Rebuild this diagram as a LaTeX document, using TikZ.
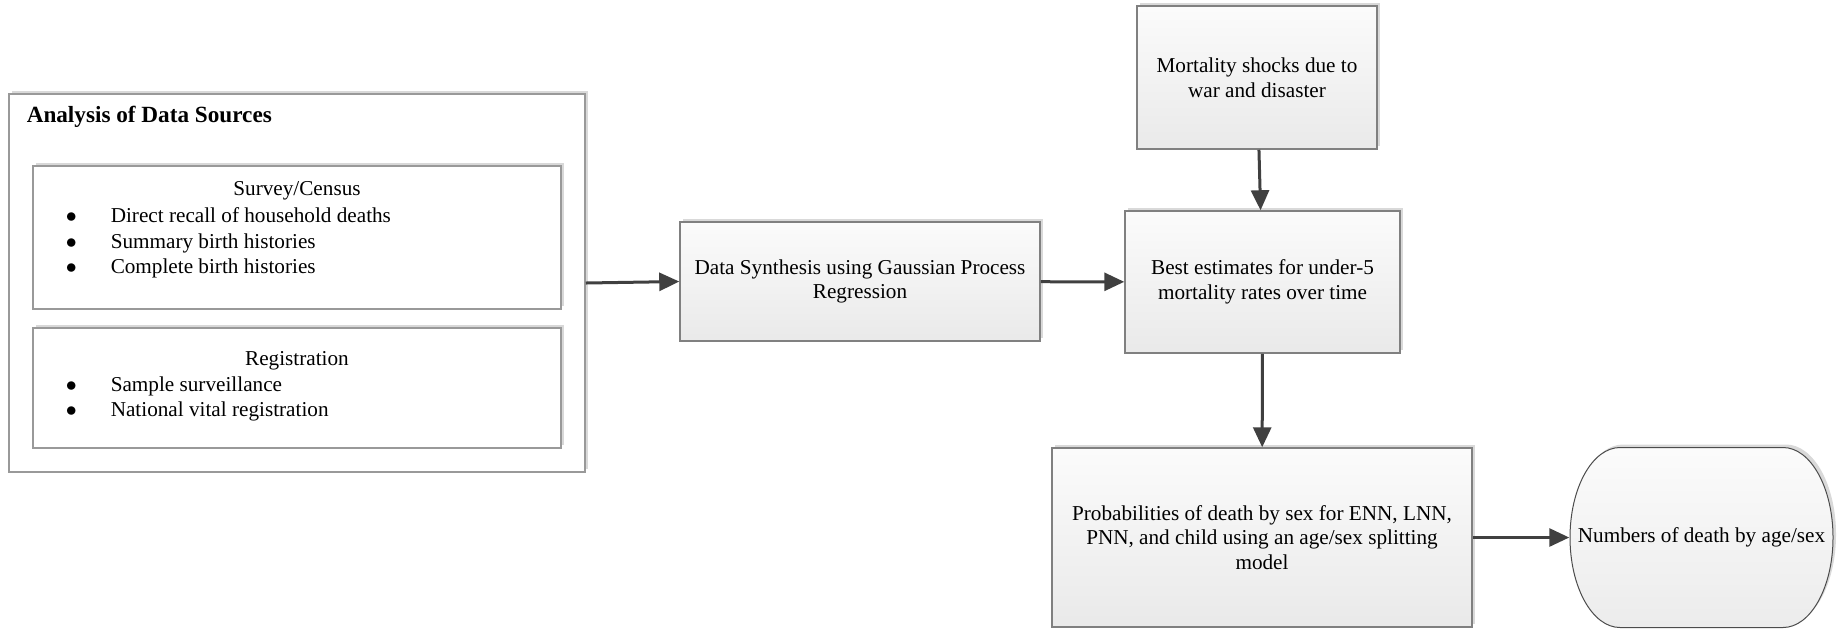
\documentclass[tikz,border=0pt]{standalone}
\usepackage{fontspec}
\setmainfont{Liberation Serif}
\usetikzlibrary{arrows.meta,shadows,calc}

\tikzset{every picture/.style={line width=0.75pt}}
\tikzset{
  every node/.style={font=\fontsize{10.6}{12.4}\selectfont},
  softshadow/.style={drop shadow={shadow xshift=1.5pt,shadow yshift=1.5pt,opacity=0.3,fill=gray}},
  srcbox/.style={draw=gray!80,fill=white,softshadow,inner sep=0pt},
  procbox/.style={draw=gray,top color=gray!3,bottom color=gray!17,softshadow,align=center,inner sep=0pt},
  flow/.style={draw=black!75,line width=1.5pt,-{Triangle[length=10pt,width=9pt]}},
}
\newcommand{\bul}{$\bullet$}

\begin{document}
\begin{tikzpicture}[x=0.5pt,y=0.5pt,yscale=-1,xscale=1]
\useasboundingbox (0,0) rectangle (1845,629);

%Data sources frame
\node (sources) [srcbox,minimum width=288pt,minimum height=189pt] at (297,283) {};
% Text Node
\draw (26,117) node (srctitle) [anchor=west,inner sep=0pt,font=\fontsize{11.6}{13}\selectfont\bfseries] {Analysis of Data Sources};

%Survey box
\node (survey) [srcbox,minimum width=264pt,minimum height=71.5pt] at (297,237.5) {};
% Text Node
\draw (297,191) node (svhead) [inner sep=0pt] {Survey/Census};
% Text Node
\draw (65,243) node (svlist) [anchor=west,inner sep=0pt] {\renewcommand\arraystretch{1.02}\begin{tabular}{@{}p{22.5pt}@{}l@{}}
\bul & Direct recall of household deaths\\
\bul & Summary birth histories\\
\bul & Complete birth histories
\end{tabular}};

%Registration box
\node (regist) [srcbox,minimum width=264pt,minimum height=60pt] at (297,388) {};
% Text Node
\draw (297,361) node (rghead) [inner sep=0pt] {Registration};
% Text Node
\draw (65,399) node (rglist) [anchor=west,inner sep=0pt] {\renewcommand\arraystretch{1.02}\begin{tabular}{@{}p{22.5pt}@{}l@{}}
\bul & Sample surveillance\\
\bul & National vital registration
\end{tabular}};

%Process boxes
\node (synth) [procbox,minimum width=180pt,minimum height=59.5pt] at (860,281.5) {Data Synthesis using Gaussian Process\\Regression};
\node (mort) [procbox,minimum width=120pt,minimum height=71.5pt] at (1257,77.5) {Mortality shocks due to\\war and disaster};
\node (best) [procbox,minimum width=137.5pt,minimum height=71pt] at (1262.5,282) {Best estimates for under-5\\mortality rates over time};
\node (prob) [procbox,minimum width=210pt,minimum height=89.5pt] at (1262,537.5) {Probabilities of death by sex for ENN, LNN,\\PNN, and child using an age/sex splitting\\model};

%Terminal shape
\draw [draw=black!70,line width=0.5pt,top color=gray!3,bottom color=gray!15,softshadow]
  (1620,447.5) -- (1783,447.5)
  arc[start angle=-90,end angle=90,x radius=50,y radius=90]
  -- (1620,627.5)
  arc[start angle=90,end angle=270,x radius=50,y radius=90] -- cycle;
\node (numbers) [minimum width=131.5pt,minimum height=90pt,inner sep=0pt] at (1701.5,537.5) {Numbers of death by age/sex};

%Straight Lines
\draw [flow] (sources.east) -- (synth.west);
\draw [flow] (synth) -- (best);
\draw [flow] (mort) -- (best);
\draw [flow] (best) -- (prob);
\draw [flow] (prob) -- (numbers);

\end{tikzpicture}
\end{document}
